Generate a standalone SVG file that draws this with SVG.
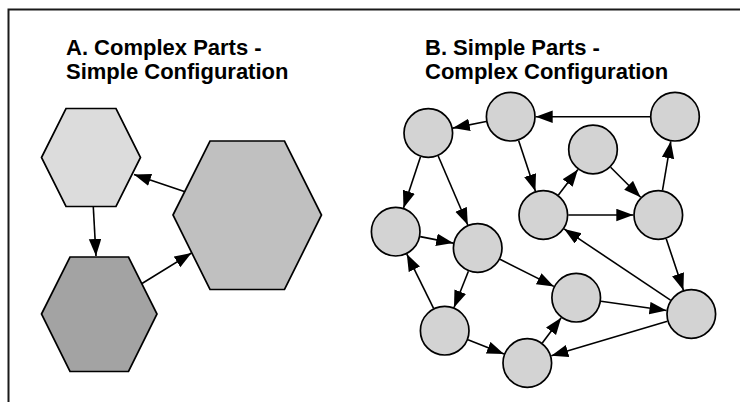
<svg xmlns="http://www.w3.org/2000/svg" width="740" height="402" viewBox="0 0 740 402">
  <style>
    .title { font-family: "Liberation Sans", Arial, Helvetica, sans-serif; font-weight: bold; font-size: 22px; fill: #000; }
    .hex { stroke: #000; stroke-width: 1.7; stroke-linejoin: miter; }
    .node { fill: #d3d3d3; stroke: #000; stroke-width: 1.7; }
    .edge { fill: none; stroke: #000; stroke-width: 1.6; marker-end: url(#arrow); }
    .frame { fill: none; stroke: #1a1a1a; stroke-width: 2; }
  </style>
  <defs>
    <marker id="arrow" markerUnits="userSpaceOnUse" markerWidth="18" markerHeight="14" refX="17" refY="6.25" orient="auto">
      <path d="M0,0 L17,6.25 L0,12.5 Z" fill="#000"/>
    </marker>
  </defs>

  <rect width="740" height="402" fill="#fff"/>
  <path class="frame" d="M8.5,402 V9.5 H740"/>

  <!-- Panel headings -->
  <text class="title" x="66" y="55">A. Complex Parts -</text>
  <text class="title" x="66" y="79">Simple Configuration</text>
  <text class="title" x="425" y="55">B. Simple Parts -</text>
  <text class="title" x="425" y="79">Complex Configuration</text>

  <!-- Panel A: three hexagonal parts -->
  <g id="hex-light">
    <polygon class="hex" fill="#dcdcdc" points="41.5,157.5 66,108.5 116,108.5 140.5,157.5 116,206.5 66,206.5"/>
  </g>
  <g id="hex-dark">
    <polygon class="hex" fill="#a3a3a3" points="41.5,314 70,257 128.5,257 157,314 128.5,371.5 70,371.5"/>
  </g>
  <g id="hex-large">
    <polygon class="hex" fill="#c0c0c0" points="173,215 210,141 284.5,141 321.5,215 284.5,289.5 210,289.5"/>
  </g>

  <!-- Panel B: circular parts -->
  <g id="c1"><circle class="node" cx="428.3" cy="133" r="24.3"/></g>
  <g id="c2"><circle class="node" cx="510.7" cy="116.7" r="24.3"/></g>
  <g id="c3"><circle class="node" cx="675" cy="116.7" r="24.3"/></g>
  <g id="c4"><circle class="node" cx="593" cy="149.5" r="24.3"/></g>
  <g id="c5"><circle class="node" cx="395.7" cy="231.7" r="24.3"/></g>
  <g id="c6"><circle class="node" cx="477.7" cy="248" r="24.3"/></g>
  <g id="c7"><circle class="node" cx="543.3" cy="215" r="24.3"/></g>
  <g id="c8"><circle class="node" cx="658.3" cy="215" r="24.3"/></g>
  <g id="c9"><circle class="node" cx="576.2" cy="297.7" r="24.3"/></g>
  <g id="c10"><circle class="node" cx="691.3" cy="314" r="24.3"/></g>
  <g id="c11"><circle class="node" cx="444.7" cy="330.7" r="24.3"/></g>
  <g id="c12"><circle class="node" cx="527.3" cy="363" r="24.3"/></g>

  <!-- Connectors -->
  <g id="connectors">
    <!-- panel A -->
    <line class="edge" x1="185" y1="191.7" x2="134" y2="174.5"/>
    <line class="edge" x1="93.3" y1="207" x2="96" y2="256"/>
    <line class="edge" x1="142" y1="283.5" x2="191.5" y2="253"/>
    <!-- panel B -->
    <line class="edge" x1="486.2" y1="121.5" x2="452.8" y2="128.1"/>
    <line class="edge" x1="650" y1="116.7" x2="535.7" y2="116.7"/>
    <line class="edge" x1="420.5" y1="156.8" x2="403.5" y2="207.9"/>
    <line class="edge" x1="438.2" y1="156" x2="467.8" y2="225"/>
    <line class="edge" x1="518.6" y1="140.4" x2="535.4" y2="191.3"/>
    <line class="edge" x1="558.4" y1="195.1" x2="577.9" y2="169.4"/>
    <line class="edge" x1="610.6" y1="167.2" x2="640.6" y2="197.3"/>
    <line class="edge" x1="662.5" y1="190.4" x2="670.8" y2="141.3"/>
    <line class="edge" x1="568.3" y1="215" x2="633.3" y2="215"/>
    <line class="edge" x1="666.2" y1="238.7" x2="683.4" y2="290.3"/>
    <line class="edge" x1="670.5" y1="300.1" x2="564.1" y2="228.9"/>
    <line class="edge" x1="420.2" y1="236.6" x2="453.2" y2="243.1"/>
    <line class="edge" x1="468.4" y1="271.2" x2="454" y2="307.5"/>
    <line class="edge" x1="500" y1="259.3" x2="553.9" y2="286.4"/>
    <line class="edge" x1="433.6" y1="308.3" x2="406.8" y2="254.1"/>
    <line class="edge" x1="468" y1="339.8" x2="504" y2="353.9"/>
    <line class="edge" x1="542.3" y1="343" x2="561.2" y2="317.7"/>
    <line class="edge" x1="601" y1="301.2" x2="666.5" y2="310.5"/>
    <line class="edge" x1="667.4" y1="321.2" x2="551.3" y2="355.8"/>
  </g>
</svg>
